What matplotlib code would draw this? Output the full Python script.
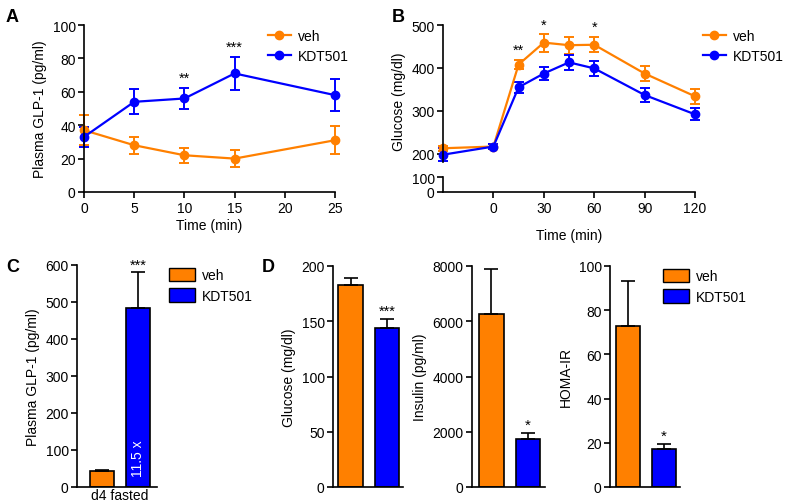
import matplotlib
matplotlib.use("Agg")
import matplotlib.pyplot as plt
from matplotlib.patches import Patch
from matplotlib.lines import Line2D

plt.rcParams['font.family'] = ['Liberation Sans', 'DejaVu Sans']
plt.rcParams['font.size'] = 10
plt.rcParams['axes.linewidth'] = 1.2
plt.rcParams['xtick.major.width'] = 1.2
plt.rcParams['ytick.major.width'] = 1.2
plt.rcParams['xtick.major.size'] = 4
plt.rcParams['ytick.major.size'] = 4
plt.rcParams['xtick.major.pad'] = 2.5
plt.rcParams['ytick.major.pad'] = 2

ORANGE = '#FF8000'
BLUE = '#0000FF'

# panel A: plasma GLP-1 time course
a_time = [0, 5, 10, 15, 25]
a_veh = [37, 28, 22, 20, 31]
a_veh_err = [9, 5, 4.5, 5, 8.5]
a_kdt = [33, 54, 56, 71, 58]
a_kdt_err = [6, 7.5, 6.5, 10, 9.5]
a_stars = {10: '**', 15: '***'}

# panel B: glucose tolerance
b_time = [-30, 0, 15, 30, 45, 60, 90, 120]
b_veh = [213, 217, 408, 459, 453, 454, 387, 334]
b_veh_err = [6, 6, 10, 21, 20, 18, 18, 18]
b_kdt = [198, 217, 355, 387, 413, 399, 337, 292]
b_kdt_err = [15, 6, 13, 16, 18, 18, 17, 14]
b_stars = {15: ('**', 426), 30: ('*', 484), 60: ('*', 480)}

# panel C: d4 fasted GLP-1
c_vals = [42, 485]
c_err = [3, 95]

# panel D
d_gluc = [183, 144]
d_gluc_err = [6, 8]
d_ins = [6250, 1750]
d_ins_err = [1650, 220]
d_homa = [73, 17]
d_homa_err = [20, 2.3]

W, H = 787, 502
fig = plt.figure(figsize=(W / 100, H / 100), dpi=100)


def box(l, r, t, b):
    return [l / W, 1 - b / H, (r - l) / W, (b - t) / H]


def clean(ax):
    ax.spines['top'].set_visible(False)
    ax.spines['right'].set_visible(False)


lkw = dict(lw=1.6, marker='o', ms=6, capsize=3.5, elinewidth=1.4, capthick=1.4, clip_on=False)
line_h = [Line2D([], [], color=ORANGE, lw=1.6, marker='o', ms=6, label='veh'),
          Line2D([], [], color=BLUE, lw=1.6, marker='o', ms=6, label='KDT501')]
leg_kw = dict(loc='upper left', bbox_transform=fig.transFigure, frameon=False, fontsize=10,
              borderaxespad=0, labelspacing=0.45, handletextpad=0.5)

# ---- A
axA = fig.add_axes(box(84, 335, 26, 193))
axA.errorbar(a_time, a_veh, yerr=a_veh_err, color=ORANGE, **lkw)
axA.errorbar(a_time, a_kdt, yerr=a_kdt_err, color=BLUE, **lkw)
for t, s in a_stars.items():
    i = a_time.index(t)
    axA.text(t, a_kdt[i] + a_kdt_err[i] + 1.5, s, ha='center', va='bottom', fontsize=10.5)
axA.set_xlim(0, 25)
axA.set_ylim(0, 100)
axA.set_xticks([0, 5, 10, 15, 20, 25])
axA.set_yticks([0, 20, 40, 60, 80, 100])
axA.set_xlabel('Time (min)', fontsize=10, labelpad=2)
axA.set_ylabel('Plasma GLP-1 (pg/ml)', fontsize=10)
clean(axA)
axA.legend(handles=line_h, bbox_to_anchor=(262 / W, 1 - 24 / H), handlelength=1.7, **leg_kw)

# ---- B (broken y axis)
axB = fig.add_axes(box(443, 695, 26, 163))
axB2 = fig.add_axes(box(443, 695, 178, 193))
axB.errorbar(b_time, b_veh, yerr=b_veh_err, color=ORANGE, **lkw)
axB.errorbar(b_time, b_kdt, yerr=b_kdt_err, color=BLUE, **lkw)
for t, (s, y) in b_stars.items():
    axB.text(t, y, s, ha='center', va='bottom', fontsize=10.5)
axB.set_xlim(-30, 120)
axB.set_ylim(181, 500)
axB.set_yticks([200, 300, 400, 500])
axB.set_xticks([])
axB.spines['bottom'].set_visible(False)
clean(axB)
axB.set_ylabel('Glucose (mg/dl)', fontsize=10, y=0.45)
axB2.set_xlim(-30, 120)
axB2.set_ylim(0, 100)
axB2.set_yticks([0, 100])
axB2.set_xticks([0, 30, 60, 90, 120])
axB2.set_xlabel('Time (min)', fontsize=10, labelpad=9)
clean(axB2)
axB.legend(handles=line_h, bbox_to_anchor=(697 / W, 1 - 24 / H), handlelength=1.7, **leg_kw)

bkw = dict(width=0.67, edgecolor='black', linewidth=1.2, capsize=5,
           error_kw=dict(elinewidth=1.2, capthick=1.2))


def bars(ax, vals, errs):
    ax.bar([0], [vals[0]], yerr=[[0], [errs[0]]], color=ORANGE, **bkw)
    ax.bar([1], [vals[1]], yerr=[[0], [errs[1]]], color=BLUE, **bkw)
    clean(ax)


patch_h = [Patch(facecolor=ORANGE, edgecolor='black', label='veh'),
           Patch(facecolor=BLUE, edgecolor='black', label='KDT501')]

# ---- C
axC = fig.add_axes(box(77, 157, 266, 488))
bars(axC, c_vals, c_err)
axC.set_xlim(-0.69, 1.53)
axC.set_ylim(0, 600)
axC.set_yticks([0, 100, 200, 300, 400, 500, 600])
axC.set_xticks([0.5])
axC.set_xticklabels(['d4 fasted'])
axC.tick_params(axis='x', length=0, pad=1)
axC.set_ylabel('Plasma GLP-1 (pg/ml)', fontsize=10)
axC.text(1, c_vals[1] + c_err[1] + 1, '***', ha='center', va='bottom', fontsize=10.5)
axC.text(1, 78, '11.5 x', color='white', rotation=90, ha='center', va='center', fontsize=10)
axC.legend(handles=patch_h, bbox_to_anchor=(163 / W, 1 - 263 / H), handlelength=1.9, handleheight=1.1, **leg_kw)

# ---- D
axD1 = fig.add_axes(box(333, 403, 267, 488))
bars(axD1, d_gluc, d_gluc_err)
axD1.set_xlim(-0.48, 1.44)
axD1.set_ylim(0, 200)
axD1.set_yticks([0, 50, 100, 150, 200])
axD1.set_xticks([])
axD1.set_ylabel('Glucose (mg/dl)', fontsize=10)
axD1.text(1, d_gluc[1] + d_gluc_err[1] + 1, '***', ha='center', va='bottom', fontsize=10.5)

axD2 = fig.add_axes(box(472, 545, 267, 488))
bars(axD2, d_ins, d_ins_err)
axD2.set_xlim(-0.53, 1.47)
axD2.set_ylim(0, 8000)
axD2.set_yticks([0, 2000, 4000, 6000, 8000])
axD2.set_xticks([])
axD2.set_ylabel('Insulin (pg/ml)', fontsize=10)
axD2.text(1, d_ins[1] + d_ins_err[1] + 40, '*', ha='center', va='bottom', fontsize=11)

axD3 = fig.add_axes(box(610, 680, 267, 488))
bars(axD3, d_homa, d_homa_err)
axD3.set_xlim(-0.5, 1.44)
axD3.set_ylim(0, 100)
axD3.set_yticks([0, 20, 40, 60, 80, 100])
axD3.set_xticks([])
axD3.set_ylabel('HOMA-IR', fontsize=10)
axD3.text(1, d_homa[1] + d_homa_err[1] + 0.5, '*', ha='center', va='bottom', fontsize=11)
axD3.legend(handles=patch_h, bbox_to_anchor=(657 / W, 1 - 264 / H), handlelength=1.9, handleheight=1.1, **leg_kw)

# panel letters
for lab, x, y in [('A', 6, 17), ('B', 392, 17), ('C', 6, 268), ('D', 262, 268)]:
    fig.text(x / W, 1 - y / H, lab, fontsize=13, fontweight='bold', va='center', ha='left')

fig.savefig('out.png', dpi=100)
